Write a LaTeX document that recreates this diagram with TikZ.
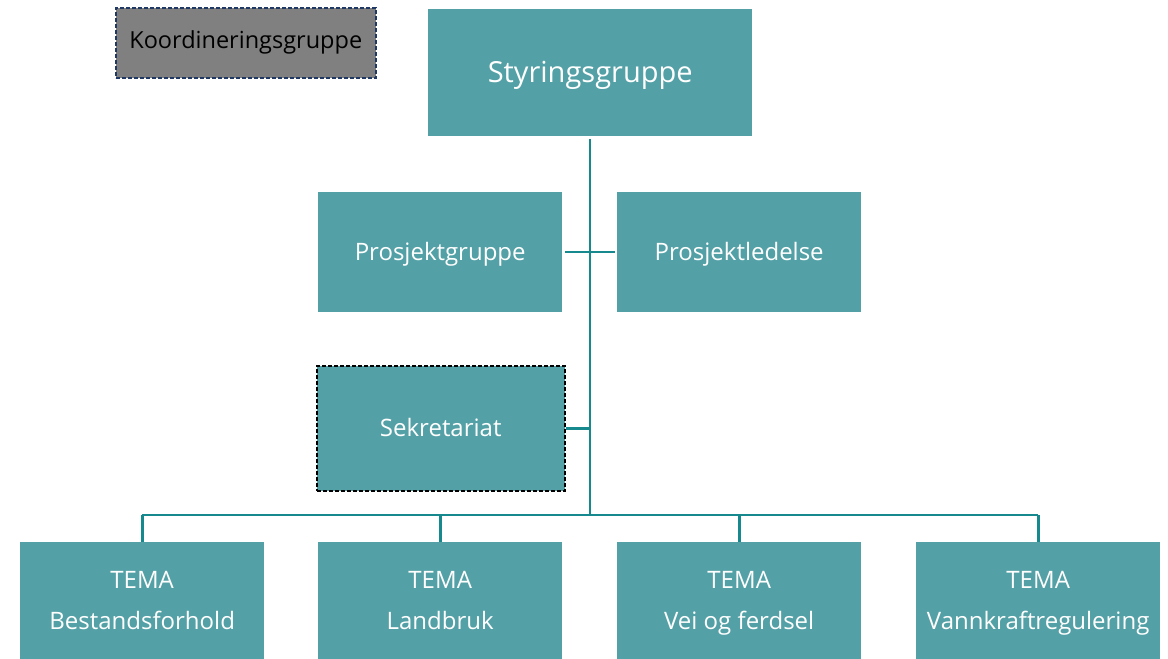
\documentclass[tikz,border=0pt]{standalone}
\usepackage{fontspec}
\setmainfont{Open Sans}
\definecolor{boxfill}{HTML}{53A1A6}
\definecolor{linecol}{HTML}{16898F}
\definecolor{navy}{HTML}{1F3864}
\definecolor{koordgray}{HTML}{808080}
\begin{document}
\begin{tikzpicture}[x=1pt,y=-1pt,
  box/.style={fill=boxfill,draw=none,text=white,align=center,inner sep=0pt,anchor=north west},
  one/.style={text height=16pt,text depth=0pt},
  conn/.style={draw=linecol,line width=2.6pt}]
\useasboundingbox (0,0) rectangle (1168,659);
\node[fill=koordgray,draw=navy,line width=1.5pt,dash pattern=on 4pt off 2pt,
  minimum width=260pt,minimum height=70pt,anchor=north west,inner sep=0pt,font=\fontsize{23.5}{28}\selectfont] (koord) at (115,7) {Koordineringsgruppe};
\node[box,text height=19pt,text depth=0pt,minimum width=324pt,minimum height=127pt,font=\fontsize{29}{34}\selectfont] (styr) at (428,9) {Styringsgruppe};
\node[box,one,minimum width=244pt,minimum height=120pt,font=\fontsize{24}{28}\selectfont] (pgr) at (318,192) {Prosjektgruppe};
\node[box,one,minimum width=244pt,minimum height=120pt,font=\fontsize{24}{28}\selectfont] (pled) at (617,192) {Prosjektledelse};
\node[box,one,draw=black,line width=1.5pt,dash pattern=on 4pt off 2pt,minimum width=248pt,minimum height=125pt,font=\fontsize{24}{28}\selectfont] (sekr) at (316,365) {Sekretariat};
\foreach \n/\x/\t in {t1/20/Bestandsforhold,t2/318/Landbruk,t3/617/Vei og ferdsel,t4/916/Vannkraftregulering}{
  \node[box,minimum width=244pt,minimum height=117pt,font=\fontsize{24}{41}\selectfont] (\n) at (\x,542) {\strut TEMA\\\strut\t};
}
\coordinate (tr1) at (590,139);
\coordinate (bus) at (590,515);
\coordinate (cl) at (565,252);
\coordinate (cr) at (615,252);
\coordinate (b1) at (t1.north |- bus);
\coordinate (b4) at (t4.north |- bus);
\draw[conn] (tr1) -- (bus);
\draw[conn] (cl) -- (cr);
\draw[conn] (sekr.east) -- (sekr.east -| tr1);
\draw[conn] (b1) -- (b4);
\foreach \n in {t1,t2,t3,t4}{
  \draw[conn] (\n.north |- bus) -- (\n.north);
}
\end{tikzpicture}
\end{document}
